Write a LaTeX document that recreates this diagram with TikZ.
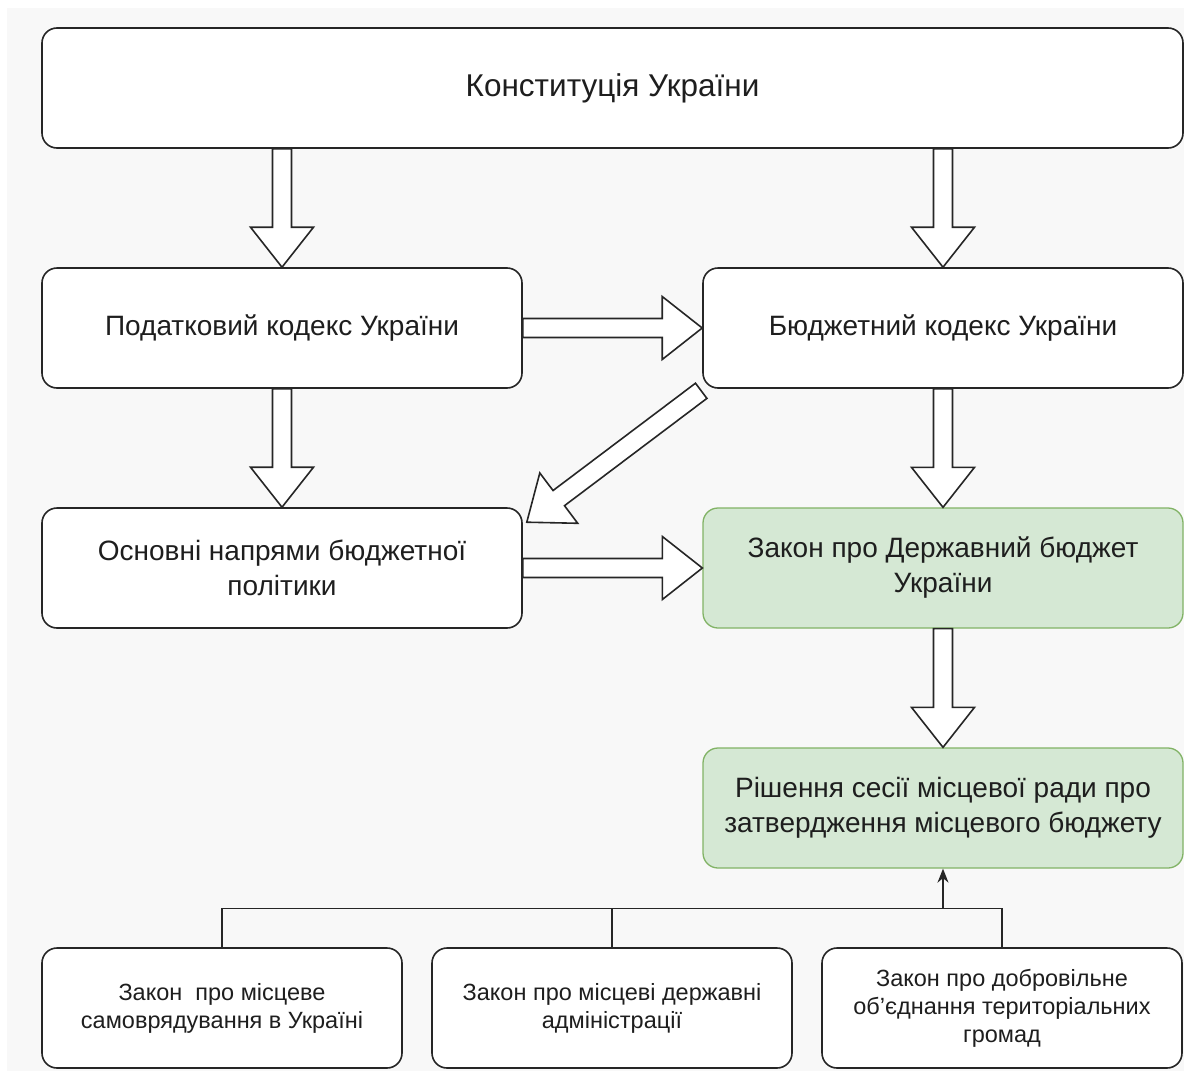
\documentclass[tikz,border=0pt]{standalone}
\usepackage{fontspec}
\setmainfont{Liberation Sans}
\usetikzlibrary{calc,arrows.meta}

\definecolor{pagebg}{HTML}{F8F8F8}
\definecolor{greenfill}{HTML}{D5E8D4}
\definecolor{greenline}{HTML}{82B366}
\definecolor{textcol}{HTML}{1E1E1E}

\tikzset{
  docbox/.style={rectangle, rounded corners=15pt, draw=black!85, line width=1.6pt,
    fill=white, minimum width=480pt, minimum height=120pt, inner sep=0pt,
    align=center, text=textcol, font=\fontsize{28}{35}\selectfont},
  greenbox/.style={docbox, fill=greenfill, draw=greenline, line width=1.3pt},
  smallbox/.style={docbox, minimum width=360pt, font=\fontsize{23.5}{28}\selectfont},
  % hollow block arrow: shaft 19pt wide, head 63pt wide and 40pt long
  blockarrow/.style={draw=black!85, fill=white, line width=1.6pt, line join=miter,
    to path={let \p1=(\tikztostart), \p2=(\tikztotarget),
      \n1={atan2(\y2-\y1,\x2-\x1)}, \n2={veclen(\x2-\x1,\y2-\y1)-40pt} in
      (\p1) ++(\n1+90:9.5pt) -- ++(\n1:\n2) -- ++(\n1+90:22pt) -- (\p2)
      -- ($(\p1)+(\n1:\n2)+(\n1-90:31.5pt)$) -- ++(\n1+90:22pt)
      -- ($(\p1)+(\n1-90:9.5pt)$) -- cycle}},
  link/.style={draw=black!85, line width=1.5pt},
}

\begin{document}
\begin{tikzpicture}[x=1pt,y=-1pt]
\useasboundingbox (0,0) rectangle (1184,1071);
\fill[white] (0,0) rectangle (1184,1071);
\fill[pagebg] (7,8) rectangle (1184,1071);

% document boxes
\node[docbox, minimum width=1141pt, font=\fontsize{31.5}{38}\selectfont] (const) at (612.5,88) {Конституція України};
\node[docbox] (tax) at (282,328) {Податковий кодекс України};
\node[docbox] (bud) at (943,328) {Бюджетний кодекс України};
\node[docbox] (dir) at (282,568) {Основні напрями бюджетної\\політики};
\node[greenbox] (law) at (943,568) {Закон про Державний бюджет\\України};
\node[greenbox] (dec) at (943,808) {Рішення сесії місцевої ради про\\затвердження місцевого бюджету};
\node[smallbox] (b1) at (222,1008) {Закон\ \ про місцеве\\самоврядування в Україні};
\node[smallbox] (b2) at (612,1008) {Закон про місцеві державні\\адміністрації};
\node[smallbox] (b3) at (1002,1008) {Закон про добровільне\\об’єднання територіальних\\громад};

% block arrows between documents
\draw[blockarrow] (const.south -| tax.north) to (tax.north);
\draw[blockarrow] (const.south -| bud.north) to (bud.north);
\draw[blockarrow] (tax.east) to (bud.west);
\draw[blockarrow] (tax.south) to (dir.north);
\draw[blockarrow] (bud.south) to (law.north);
\draw[blockarrow] ($(bud.south west)+(-1,2)$) to ($(dir.north east)+(4,15)$);
\draw[blockarrow] (dir.east) to (law.west);
\draw[blockarrow] (law.south) to (dec.south |- dec.north);

% laws on local government feed the local budget decision
\coordinate (j) at ($(dec.south)+(0,40)$);
\draw[link] (b1.north) |- (j);
\draw[link] (b2.north) |- (j);
\draw[link] (b3.north) |- (j);
\draw[link, -{Stealth[length=14pt,width=11pt]}] (j) -- (dec.south);
\end{tikzpicture}
\end{document}
